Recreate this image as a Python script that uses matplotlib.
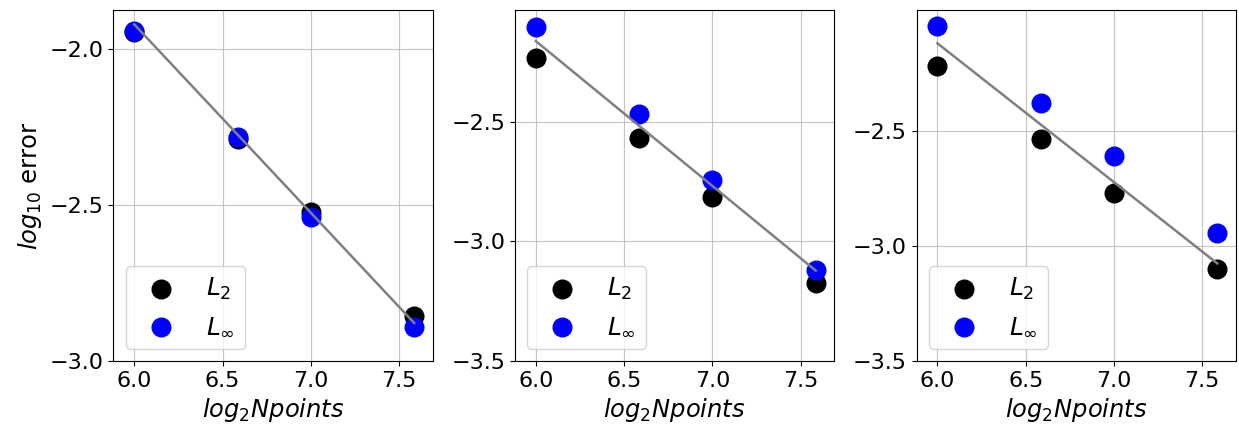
import numpy as np
import matplotlib
matplotlib.use("Agg")
from matplotlib import pyplot as plt

plt.rcParams['font.size'] = 16

npoints = [64, 96, 128, 192]
x = np.log2(npoints)

# log10 error
L2_1 = [-1.945, -2.289, -2.524, -2.857]
Linf_1 = [-1.942, -2.282, -2.538, -2.892]
L2_2 = [-2.232, -2.567, -2.816, -3.175]
Linf_2 = [-2.104, -2.469, -2.744, -3.119]
L2_3 = [-2.215, -2.531, -2.770, -3.100]
Linf_3 = [-2.041, -2.375, -2.606, -2.942]

# reference line ends (at first and last x)
ref_1 = [-1.921, -2.878]
ref_2 = [-2.162, -3.122]
ref_3 = [-2.116, -3.075]

ylims = [(-3.0, -1.875), (-3.5, -2.032), (-3.5, -1.971)]
yticks = [[-3.0, -2.5, -2.0], [-3.5, -3.0, -2.5], [-3.5, -3.0, -2.5]]

fig, axs = plt.subplots(1, 3, figsize=(12.39, 4.29), dpi=100)
plt.subplots_adjust(left=0.0915, right=0.9976, top=0.9767, bottom=0.1585, wspace=0.257)

data = [(L2_1, Linf_1, ref_1), (L2_2, Linf_2, ref_2), (L2_3, Linf_3, ref_3)]
for i, ax in enumerate(axs):
    l2, linf, ref = data[i]
    ax.scatter(x, l2, c='k', s=180, label='$L_2$', zorder=3)
    ax.scatter(x, linf, c='b', s=180, label=r'$L_\infty$', zorder=3)
    ax.plot([x[0], x[-1]], ref, color='gray', lw=1.8, zorder=4)
    ax.set_xlim(5.882, 7.691)
    ax.set_ylim(*ylims[i])
    ax.set_yticks(yticks[i])
    ax.set_xticks([6.0, 6.5, 7.0, 7.5])
    ax.grid(True, color='#c4c4c4')
    ax.set_axisbelow(True)
    ax.set_xlabel('$log_2 Npoints$', fontsize=17.5)
    ax.legend(loc='lower left', fontsize=18)

axs[0].set_ylabel('$log_{10}$ error', fontsize=17.5)

plt.savefig('out.png')
